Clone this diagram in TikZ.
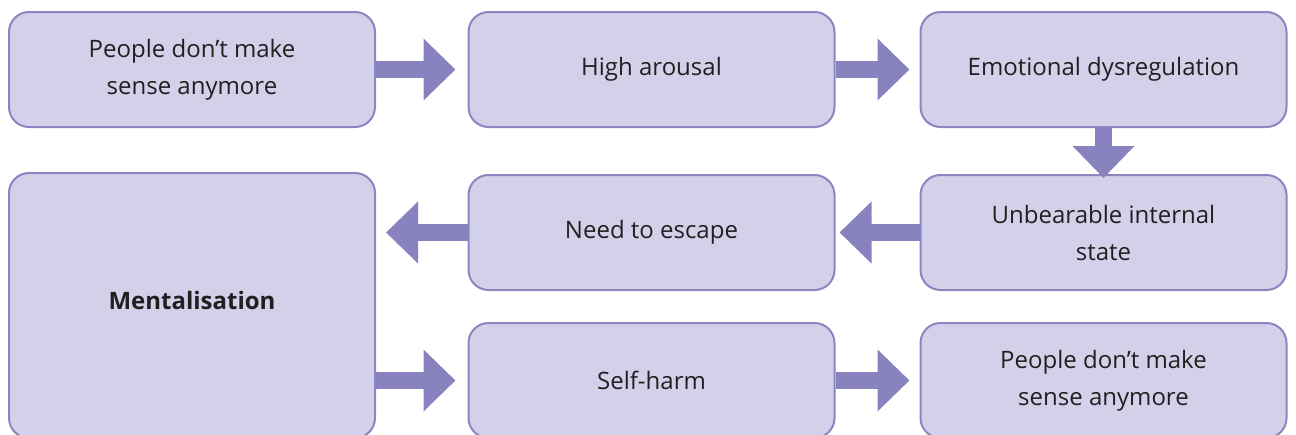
\documentclass[tikz,border=0pt]{standalone}
\usepackage{fontspec}
\setmainfont{Open Sans}
\usetikzlibrary{arrows.meta}
\definecolor{boxfill}{HTML}{D3D1E9}
\definecolor{boxline}{HTML}{8B85C1}
\definecolor{arrowcol}{HTML}{8882BF}
\definecolor{txt}{HTML}{231F20}
\tikzset{
  flowbox/.style={draw=boxline, fill=boxfill, line width=2pt, rounded corners=20pt,
    minimum width=366pt, minimum height=115pt, inner sep=0pt, align=center,
    text=txt, font=\fontsize{24}{37}\selectfont},
  flowarrow/.style={draw=arrowcol, line width=17pt,
    -{Triangle[length=32pt, width=60pt, color=arrowcol]}}
}
\begin{document}
\begin{tikzpicture}[x=1pt, y=-1pt]
  \useasboundingbox (0,0) rectangle (1296,434);
  \clip (0,0) rectangle (1296,434);
  % top row
  \node[flowbox] (nosense1) at (192,69.5) {People don’t make\\sense anymore};
  \node[flowbox] (arousal) at (651.5,69.5) {High arousal};
  \node[flowbox] (dysreg) at (1103.5,69.5) {Emotional dysregulation};
  % middle row
  \node[flowbox, minimum height=265pt] (mental) at (192,305.5) {};
  \node[text=txt, font=\fontsize{24}{37}\selectfont\bfseries] (mentallabel) at (192,300) {Mentalisation};
  \node[flowbox] (escape) at (651.5,232.5) {Need to escape};
  \node[flowbox] (unbear) at (1103.5,232.5) {Unbearable internal\\state};
  % bottom row
  \node[flowbox] (selfharm) at (651.5,380.5) {Self-harm};
  \node[flowbox] (nosense2) at (1103.5,380.5) {People don’t make\\sense anymore};
  % arrow end points
  \coordinate (t1) at ([xshift=-12pt]arousal.west);
  \coordinate (t2) at ([xshift=-10pt]dysreg.west);
  \coordinate (t3) at ([yshift=-4pt]unbear.north);
  \coordinate (t4) at ([xshift=4pt]escape.east);
  \coordinate (t5) at ([xshift=10pt]mental.east |- escape.west);
  \coordinate (s6) at (mental.east |- selfharm.west);
  \coordinate (t6) at ([xshift=-12pt]selfharm.west);
  \coordinate (t7) at ([xshift=-10pt]nosense2.west);
  % arrows
  \draw[flowarrow] (nosense1.east) -- (t1);
  \draw[flowarrow] (arousal.east) -- (t2);
  \draw[flowarrow] (dysreg.south) -- (t3);
  \draw[flowarrow] (unbear.west) -- (t4);
  \draw[flowarrow] (escape.west) -- (t5);
  \draw[flowarrow] (s6) -- (t6);
  \draw[flowarrow] (selfharm.east) -- (t7);
\end{tikzpicture}
\end{document}
